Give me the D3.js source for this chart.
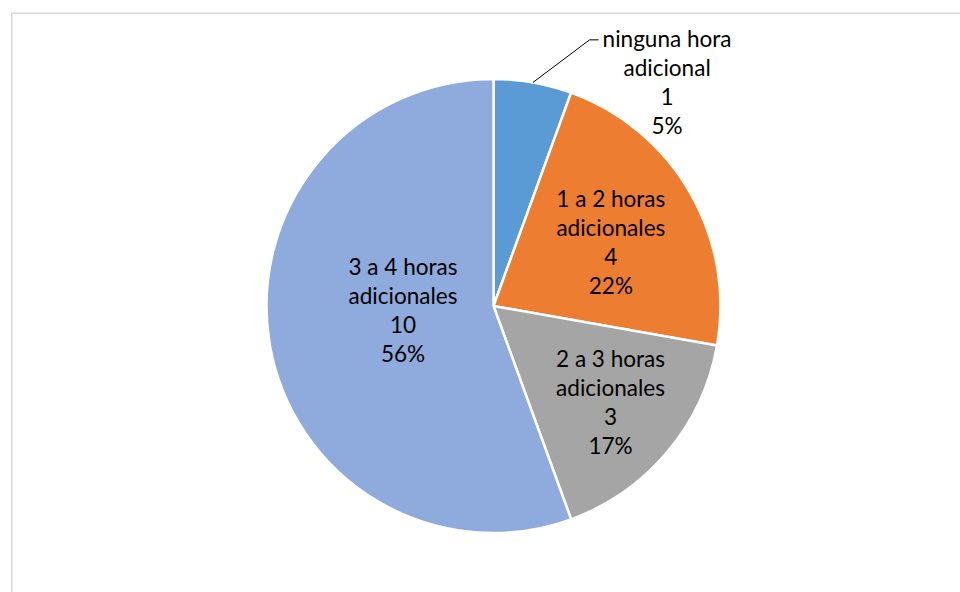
<!DOCTYPE html>
<html>
<head>
<meta charset="utf-8">
<script src="https://cdn.jsdelivr.net/npm/d3@7"></script>
<style>
  html, body { margin: 0; padding: 0; background: #fff; }
  svg { display: block; }
</style>
</head>
<body>
<svg id="chart" width="960" height="592"></svg>
<script>
// ---- data ----
const categories = ["ninguna hora adicional", "1 a 2 horas adicionales", "2 a 3 horas adicionales", "3 a 4 horas adicionales"];
const labelLines = [["ninguna hora", "adicional"], ["1 a 2 horas", "adicionales"], ["2 a 3 horas", "adicionales"], ["3 a 4 horas", "adicionales"]];
const values = [1, 4, 3, 10];
const percentLabels = ["5%", "22%", "17%", "56%"];
const colors = ["#5B9BD5", "#ED7D31", "#A5A5A5", "#8FAADC"];

// ---- layout ----
const W = 960, H = 592;
const cx = 493.5, cy = 306, R = 227;
const lineH = 29;
// label anchor (mean baseline) in polar coords relative to the pie centre
const labelLayout = [
  { angle: 38.8, dist: 277 },
  { angle: 64.5, dist: 130 },
  { angle: 131.8, dist: 157 },
  { angle: 262, dist: 91.4 }
];

const svg = d3.select("#chart");

svg.append("rect")
  .attr("x", 11.75).attr("y", 13.25)
  .attr("width", 980).attr("height", 620)
  .attr("fill", "#fff")
  .attr("stroke", "#d9d9d9").attr("stroke-width", 1.5);

const pie = d3.pie().sort(null).value(d => d)(values);
const arc = d3.arc().innerRadius(0).outerRadius(R);

const g = svg.append("g").attr("transform", `translate(${cx},${cy})`);

g.selectAll("path.slice")
  .data(pie)
  .join("path")
  .attr("class", "slice")
  .attr("d", arc)
  .attr("fill", (d, i) => colors[i])
  .attr("stroke", "#fff")
  .attr("stroke-width", 2.5)
  .attr("stroke-linejoin", "round");

const fontFamily = "Lato, 'Open Sans', sans-serif";
// fit font size so label widths resemble the reference
const probe = svg.append("text").attr("font-family", fontFamily).attr("font-size", 24).text("adicionales");
const w24 = probe.node().getComputedTextLength();
probe.remove();
const fontSize = Math.min(24, 24 * 109 / w24);

const labels = g.selectAll("g.lbl")
  .data(pie)
  .join("g")
  .attr("class", "lbl")
  .attr("transform", (d, i) => {
    const L = labelLayout[i];
    const [x, y] = d3.pointRadial(L.angle * Math.PI / 180, L.dist);
    return `translate(${x},${y})`;
  });

labels.each(function (d, i) {
  const lines = [...labelLines[i], String(values[i]), percentLabels[i]];
  const t = d3.select(this).append("text")
    .attr("text-anchor", "middle")
    .attr("font-family", fontFamily)
    .attr("font-size", fontSize)
    .attr("fill", "#000");
  lines.forEach((ln, k) => {
    t.append("tspan")
      .attr("x", 0)
      .attr("y", (k - (lines.length - 1) / 2) * lineH)
      .text(ln);
  });
});

// leader line for the small first slice
{
  const d = pie[0];
  const mid = (d.startAngle + d.endAngle) / 2;
  const [sx, sy] = d3.pointRadial(mid, R);
  const L = labelLayout[0];
  const [lx, ly] = d3.pointRadial(L.angle * Math.PI / 180, L.dist);
  const textNode = labels.filter((dd, i) => i === 0).select("text").node();
  const bb = textNode.getBBox();
  const firstLineMidY = ly + (0 - 1.5) * lineH - fontSize * 0.3;
  const endX = lx + bb.x - 4;
  const elbowX = endX - 9;
  g.append("path")
    .attr("d", d3.line()([[sx, sy], [elbowX, firstLineMidY], [endX, firstLineMidY]]))
    .attr("fill", "none")
    .attr("stroke", "#000")
    .attr("stroke-width", 1);
}
</script>
</body>
</html>
